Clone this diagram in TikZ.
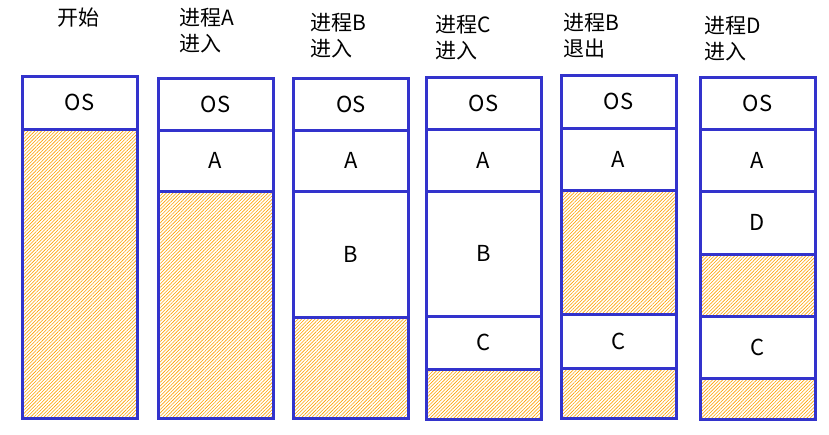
\documentclass[tikz,border=0pt]{standalone}
\usepackage{fontspec}
\setmainfont{Noto Sans CJK SC}
\usepackage{xcolor}
\usepackage{tikz}
\usetikzlibrary{positioning}
\usetikzlibrary{patterns.meta}
\definecolor{memcol}{RGB}{51,51,204}
\definecolor{freecol}{RGB}{255,160,0}
\tikzstyle{seg}=[draw=memcol,line width=3pt,minimum width=115pt,inner sep=0pt,outer sep=0pt,anchor=north,font=\fontsize{22}{22}\selectfont]
\tikzstyle{free}=[seg,pattern={Lines[angle=45,distance=2.4pt,line width=0.6pt]},pattern color=freecol]
\tikzstyle{stage}=[anchor=north west,inner sep=0pt,align=left,font=\fontsize{21}{26}\selectfont]

\begin{document}
\begin{tikzpicture}[x=1pt,y=1pt]
  \useasboundingbox (0,0) rectangle (829,-434);
  % start
  \node[stage] (t1) at (57,-8) {开始};
  \node[seg,minimum height=53pt] (os1) at (79.5,-76) {OS};
  \node[free,minimum height=289pt,below=0pt of os1] (f1) {};
  % A in
  \node[stage] (t2) at (179,-8) {进程A\\进入};
  \node[seg,minimum height=52pt] (os2) at (215.5,-78) {OS};
  \node[seg,minimum height=61pt,below=0pt of os2] (a2) {A};
  \node[free,minimum height=227pt,below=0pt of a2] (f2) {};
  % B in
  \node[stage] (t3) at (310,-13) {进程B\\进入};
  \node[seg,minimum height=52pt] (os3) at (351,-78) {OS};
  \node[seg,minimum height=61pt,below=0pt of os3] (a3) {A};
  \node[seg,minimum height=126pt,below=0pt of a3] (b3) {B};
  \node[free,minimum height=101pt,below=0pt of b3] (f3) {};
  % C in
  \node[stage] (t4) at (435,-15) {进程C\\进入};
  \node[seg,minimum height=52pt] (os4) at (483.5,-77) {OS};
  \node[seg,minimum height=62pt,below=0pt of os4] (a4) {A};
  \node[seg,minimum height=125pt,below=0pt of a4] (b4) {B};
  \node[seg,minimum height=53pt,below=0pt of b4] (c4) {C};
  \node[free,minimum height=50pt,below=0pt of c4] (f4) {};
  % B out
  \node[stage] (t5) at (563,-13) {进程B\\退出};
  \node[seg,minimum height=53pt] (os5) at (618.5,-75) {OS};
  \node[seg,minimum height=62pt,below=0pt of os5] (a5) {A};
  \node[free,minimum height=124pt,below=0pt of a5] (f5a) {};
  \node[seg,minimum height=54pt,below=0pt of f5a] (c5) {C};
  \node[free,minimum height=50pt,below=0pt of c5] (f5b) {};
  % D in
  \node[stage] (t6) at (704,-16) {进程D\\进入};
  \node[seg,minimum height=52pt] (os6) at (757.5,-77) {OS};
  \node[seg,minimum height=62pt,below=0pt of os6] (a6) {A};
  \node[seg,minimum height=63pt,below=0pt of a6] (d6) {D};
  \node[free,minimum height=62pt,below=0pt of d6] (f6a) {};
  \node[seg,minimum height=62pt,below=0pt of f6a] (c6) {C};
  \node[free,minimum height=41pt,below=0pt of c6] (f6b) {};
\end{tikzpicture}
\end{document}
